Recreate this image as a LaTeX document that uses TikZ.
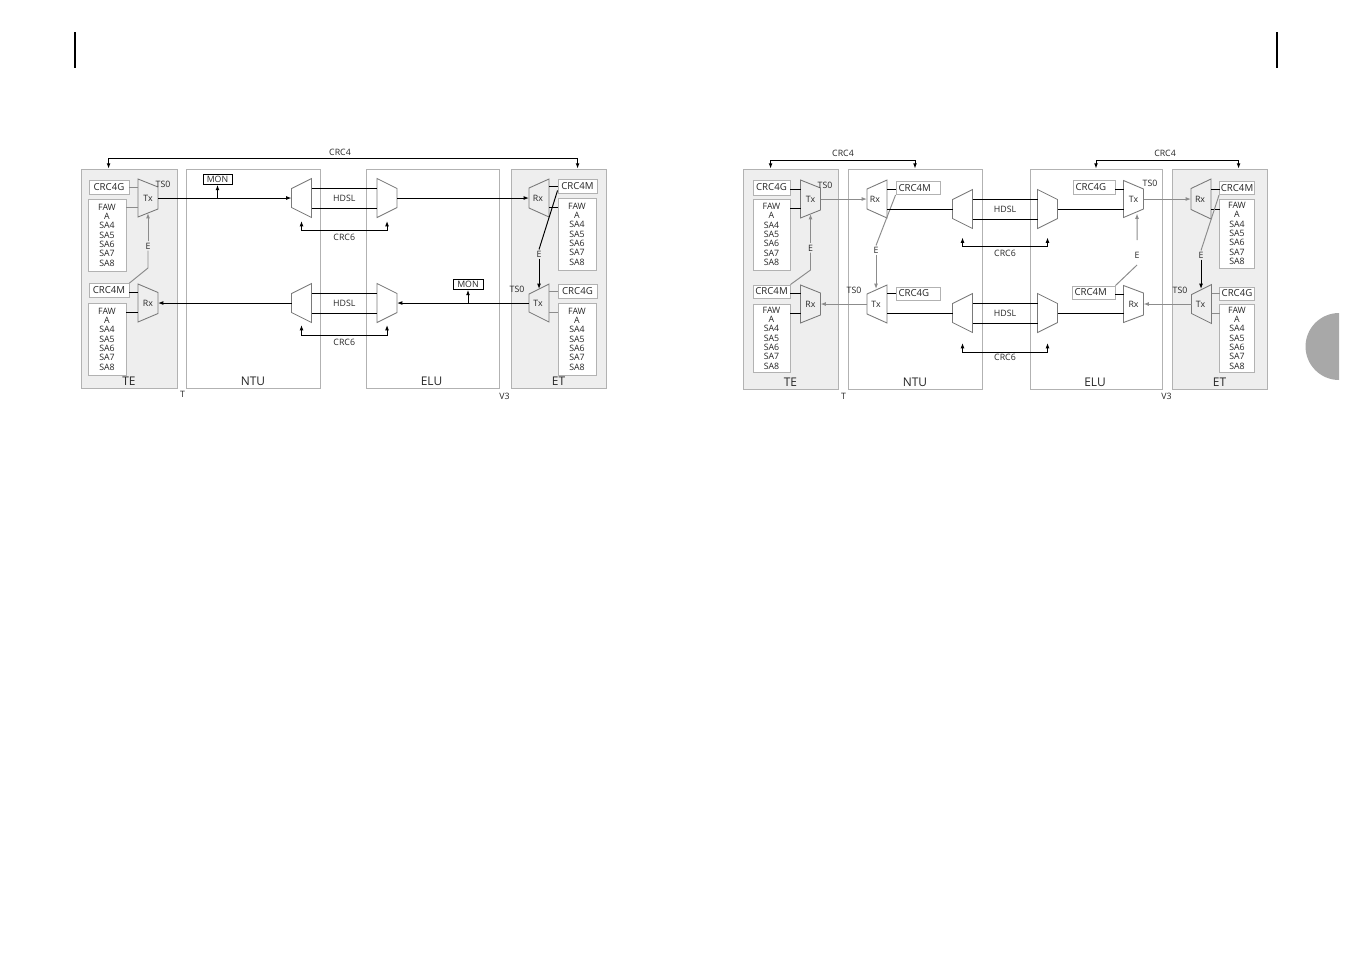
\documentclass[tikz,border=0pt]{standalone}
\usepackage{fontspec}
\setmainfont{Open Sans}
\usepackage{xcolor}
\usepackage{tikz}
\usetikzlibrary{arrows.meta, positioning, calc}

\definecolor{boxgray}{HTML}{B2B2B2}
\definecolor{panelgray}{HTML}{EEEEEE}
\definecolor{wiregray}{HTML}{8C8C8C}
\definecolor{muxgray}{HTML}{7A7A7A}
\definecolor{tabgray}{HTML}{A8A8A8}
\definecolor{inkgray}{HTML}{262626}

\newcommand{\tagfont}{\fontsize{5.5}{6}\selectfont}
\newcommand{\listfont}{\fontsize{5}{5.3}\selectfont}
\newcommand{\lblfont}{\fontsize{5}{6}\selectfont}
\newcommand{\unitfont}{\fontsize{6.8}{8}\selectfont}
\newcommand{\fawlist}{FAW\\A\\SA4\\SA5\\SA6\\SA7\\SA8}

% trapezoid, wide side on the left: name, x, y, wide half, narrow half
\newcommand{\muxwl}[5]{%
  \coordinate (#1) at (#2,#3);
  \coordinate (#1-w) at ({#2-10},#3);
  \coordinate (#1-e) at ({#2+10},#3);
  \draw[mux] ({#2-10},{#3-#4}) -- ({#2+10},{#3-#5}) -- ({#2+10},{#3+#5}) -- ({#2-10},{#3+#4}) -- cycle;}
% trapezoid, wide side on the right
\newcommand{\muxwr}[5]{%
  \coordinate (#1) at (#2,#3);
  \coordinate (#1-w) at ({#2-10},#3);
  \coordinate (#1-e) at ({#2+10},#3);
  \draw[mux] ({#2-10},{#3-#5}) -- ({#2+10},{#3-#4}) -- ({#2+10},{#3+#4}) -- ({#2-10},{#3+#5}) -- cycle;}

\begin{document}
\begin{tikzpicture}[x=0.02cm, y=-0.02cm, text=inkgray,
    panel/.style={rectangle, draw=boxgray, fill=panelgray, line width=0.5pt, inner sep=0pt, minimum height=4.38cm},
    unitbox/.style={panel, fill=white},
    tagbox/.style={rectangle, draw=boxgray, fill=white, line width=0.5pt, inner sep=0pt, minimum width=0.8cm, minimum height=0.28cm, font=\tagfont},
    tagleft/.style={tagbox, align=left, inner xsep=0.05cm, text width=0.78cm, minimum height=0.26cm},
    fawbox/.style={rectangle, draw=boxgray, fill=white, line width=0.5pt, inner sep=0pt, minimum width=0.76cm, minimum height=1.44cm, align=center, font=\listfont},
    monbox/.style={rectangle, draw=black, line width=0.45pt, inner sep=0pt, minimum width=0.58cm, minimum height=0.2cm, font=\lblfont},
    lbl/.style={inner sep=0.6pt, font=\lblfont},
    uname/.style={inner sep=0pt, font=\unitfont},
    mux/.style={draw=muxgray, line width=0.5pt},
    wire/.style={draw=black, line width=0.55pt},
    gwire/.style={draw=wiregray, line width=0.55pt},
    sig/.style={wire, -{Latex[length=3pt, width=2.2pt]}},
    gsig/.style={gwire, -{Latex[length=3pt, width=2.2pt]}},
    sigboth/.style={wire, {Latex[length=3pt, width=2.2pt]}-{Latex[length=3pt, width=2.2pt]}}]

    \useasboundingbox (0,0) rectangle (1351,954);

    \draw[line width=1.1pt] (75,32) -- (75,68);
    \draw[line width=1.1pt] (1277,32) -- (1277,68);
    \begin{scope}
        \clip (1300,300) rectangle (1339,400);
        \fill[tabgray] (1339,346.5) circle[radius=0.67cm];
    \end{scope}

    % left diagram
    \node[panel, minimum width=1.92cm] (teL) at (129,278.5) {};
    \node[unitbox, minimum width=2.68cm] (ntuL) at (253,278.5) {};
    \node[unitbox, minimum width=2.66cm] (eluL) at (432.5,278.5) {};
    \node[panel, minimum width=1.90cm] (etL) at (558.5,278.5) {};
    \node[uname] (teLname) at ($(teL.south)+(0,-7)$) {TE};
    \node[uname] (ntuLname) at ($(ntuL.south)+(0,-7)$) {NTU};
    \node[uname] (eluLname) at ($(eluL.south)+(-1,-7)$) {ELU};
    \node[uname] (etLname) at ($(etL.south)+(0,-7)$) {ET};
    \node[lbl] (tL) at ($(teL.south east)+(5,6)$) {T};
    \node[lbl] (v3L) at ($(eluL.south east)+(5,8)$) {V3};

    \node[lbl] (crc4L) at (340,152) {CRC4};
    \draw[sigboth] ($(teL.north west)+(28,0)$) -- ++(0,-10) -| ($(etL.north west)+(67,0)$);

    \node[tagbox] (crc4gL1) at (109,187.5) {CRC4G};
    \node[fawbox] (fawL1) at (107,235) {\fawlist};
    \node[tagbox] (crc4mL1) at (109,290.5) {CRC4M};
    \node[fawbox] (fawL2) at (107,339) {\fawlist};
    \muxwl{txL1}{148}{198}{19}{11}
    \muxwl{rxL1}{148}{303}{19}{10.5}
    \node[lbl] (txL1t) at (txL1) {Tx};
    \node[lbl] (rxL1t) at (rxL1) {Rx};
    \node[lbl] (tsL1) at ($(txL1)+(15,-14)$) {TS0};
    \draw[gwire] (crc4gL1.east) -- (crc4gL1.east -| txL1-w);
    \draw[gwire] ($(txL1-w)+(0,9)$) -- ++(-12,0);
    \draw[wire] ($(rxL1-w)+(0,-11)$) -- ++(-9,0);
    \draw[wire] ($(rxL1-w)+(0,9)$) -- ++(-12,0);
    \node[lbl] (eL1) at (148,246) {E};
    \draw[gsig] (eL1.north) -- ($(txL1)+(0,15)$);
    \draw[gwire] (eL1.south) -- ($(eL1)+(0,22)$) -- (crc4mL1.north east);

    \muxwr{hmuxL1}{301.5}{198}{19.5}{9.5}
    \muxwl{hmuxL2}{387}{198}{19.5}{9.5}
    \muxwr{hmuxL3}{301.5}{303}{19.5}{9.5}
    \muxwl{hmuxL4}{387}{303}{19.5}{9.5}
    \draw[wire] ($(hmuxL1-e)+(0,-10)$) -- ($(hmuxL2-w)+(0,-10)$);
    \draw[wire] ($(hmuxL1-e)+(0,10)$) -- ($(hmuxL2-w)+(0,10)$);
    \draw[wire] ($(hmuxL3-e)+(0,-10)$) -- ($(hmuxL4-w)+(0,-10)$);
    \draw[wire] ($(hmuxL3-e)+(0,10)$) -- ($(hmuxL4-w)+(0,10)$);
    \node[lbl] (hdslL1) at ($(hmuxL1)!0.5!(hmuxL2)$) {HDSL};
    \node[lbl] (hdslL2) at ($(hmuxL3)!0.5!(hmuxL4)$) {HDSL};
    \draw[sigboth] ($(hmuxL1)+(0,23)$) -- ++(0,9) -| ($(hmuxL2)+(0,23)$);
    \draw[sigboth] ($(hmuxL3)+(0,22)$) -- ++(0,10) -| ($(hmuxL4)+(0,22)$);
    \node[lbl] (crc6L1) at ($(hmuxL1)!0.5!(hmuxL2)+(0,39.5)$) {CRC6};
    \node[lbl] (crc6L2) at ($(hmuxL3)!0.5!(hmuxL4)+(0,39.5)$) {CRC6};

    \node[monbox] (monL1) at (217.5,179.5) {MON};
    \draw[sig] (txL1-e) -- (hmuxL1-w);
    \draw[sig] (monL1.south |- txL1-e) -- (monL1.south);
    \draw[sig] (hmuxL3-w) -- (rxL1-e);

    \muxwr{rxL2}{539}{198}{19}{10}
    \muxwr{txL2}{539}{303}{19}{9}
    \node[lbl] (rxL2t) at ($(rxL2)+(-1,0)$) {Rx};
    \node[lbl] (txL2t) at ($(txL2)+(-1,0)$) {Tx};
    \node[lbl] (tsL2) at ($(txL2)+(-22,-14)$) {TS0};
    \node[tagbox, minimum width=0.78cm] (crc4mL2) at (577.5,186) {CRC4M};
    \node[fawbox] (fawL3) at (577,234) {\fawlist};
    \node[tagbox, minimum width=0.78cm] (crc4gL2) at (577.5,291) {CRC4G};
    \node[fawbox] (fawL4) at (577,339) {\fawlist};
    \draw[wire] ($(rxL2-e)+(0,-12)$) -- ++(9,0);
    \draw[wire] ($(rxL2-e)+(0,9)$) -- ++(9,0);
    \draw[gwire] ($(txL2-e)+(0,-12)$) -- ++(9,0);
    \draw[gwire] ($(txL2-e)+(0,9)$) -- ++(9,0);
    \node[lbl] (eL2) at (539,254) {E};
    \draw[wire] ($(crc4mL2.south west)+(0,-3)$) -- (eL2.north);
    \draw[sig] (eL2.south) -- ($(txL2)+(0,-14)$);

    \node[monbox, minimum width=0.6cm] (monL2) at (468,284.5) {MON};
    \draw[sig] (hmuxL2-e) -- (rxL2-w);
    \draw[sig] (txL2-w) -- (hmuxL4-e);
    \draw[sig] (monL2.south |- txL2-w) -- (monL2.south);

    % right diagram
    \node[panel, minimum width=1.90cm, minimum height=4.40cm] (teR) at (790.5,279) {};
    \node[unitbox, minimum width=2.68cm, minimum height=4.40cm] (ntuR) at (915,279) {};
    \node[unitbox, minimum width=2.64cm, minimum height=4.40cm] (eluR) at (1096,279) {};
    \node[panel, minimum width=1.90cm, minimum height=4.40cm] (etR) at (1219.5,279) {};
    \node[uname] (teRname) at ($(teR.south)+(0,-7)$) {TE};
    \node[uname] (ntuRname) at ($(ntuR.south)+(0,-7)$) {NTU};
    \node[uname] (eluRname) at ($(eluR.south)+(-1,-7)$) {ELU};
    \node[uname] (etRname) at ($(etR.south)+(0,-7)$) {ET};
    \node[lbl] (tR) at ($(teR.south east)+(5,7)$) {T};
    \node[lbl] (v3R) at ($(eluR.south east)+(4,7)$) {V3};

    \node[lbl] (crc4R1) at (843,153) {CRC4};
    \draw[sigboth] ($(teR.north west)+(28,0)$) -- ++(0,-8.5) -| (ntuR.north);
    \node[lbl] (crc4R2) at (1165,153) {CRC4};
    \draw[sigboth] (eluR.north) -- ++(0,-8.5) -| ($(etR.north west)+(67,0)$);

    \node[tagbox, minimum width=0.74cm, minimum height=0.3cm] (crc4gR1) at (771.5,187.5) {CRC4G};
    \node[fawbox, minimum width=0.74cm, minimum height=1.42cm] (fawR1) at (771.5,234.5) {\fawlist};
    \node[tagbox, minimum width=0.74cm, minimum height=0.26cm] (crc4mR1) at (771.5,291.5) {CRC4M};
    \node[fawbox, minimum width=0.74cm, minimum height=1.36cm] (fawR2) at (771.5,338) {\fawlist};
    \muxwl{txR1}{810.5}{199}{19}{11}
    \muxwl{rxR1}{810.5}{304}{19}{11}
    \node[lbl] (txR1t) at (txR1) {Tx};
    \node[lbl] (rxR1t) at (rxR1) {Rx};
    \node[lbl] (tsR1) at ($(txR1)+(14.5,-14)$) {TS0};
    \draw[wire] ($(txR1-w)+(0,-10)$) -- ++(-10.5,0);
    \draw[wire] ($(txR1-w)+(0,9)$) -- ++(-10.5,0);
    \draw[wire] ($(rxR1-w)+(0,-11)$) -- ++(-10.5,0);
    \draw[wire] ($(rxR1-w)+(0,9)$) -- ++(-10.5,0);
    \node[lbl] (eR1) at (810.5,248) {E};
    \draw[gsig] (eR1.north) -- ($(txR1)+(0,15)$);
    \draw[gwire] (eR1.south) -- ($(eR1)+(0,22)$) -- (crc4mR1.north east);

    \muxwr{rxR2}{877}{199}{19}{10}
    \muxwr{txR2}{877}{304}{19}{10}
    \node[lbl] (rxR2t) at ($(rxR2)+(-2,0)$) {Rx};
    \node[lbl] (txR2t) at ($(txR2)+(-1,0)$) {Tx};
    \node[lbl] (tsR2) at ($(txR2)+(-23,-14)$) {TS0};
    \node[tagleft] (crc4mR2) at (918,188) {CRC4M};
    \node[tagleft] (crc4gR2) at (918,293.5) {CRC4G};
    \draw[gsig] (txR1-e) -- (rxR2-w);
    \draw[gsig] (txR2-w) -- (rxR1-e);
    \draw[wire] ($(rxR2-e)+(0,-10)$) -- ++(9,0);
    \draw[wire] ($(txR2-e)+(0,-11)$) -- ++(9,0);
    \node[lbl] (eR2) at (876,250) {E};
    \draw[gwire] (crc4mR2.south west) -- (eR2.north);
    \draw[gsig] (eR2.south) -- ($(txR2)+(-1,-15)$);

    \muxwr{hmuxR1}{962.5}{209}{19.5}{9.5}
    \muxwl{hmuxR2}{1047.5}{209}{19.5}{9.5}
    \muxwr{hmuxR3}{962.5}{313}{19.5}{9.5}
    \muxwl{hmuxR4}{1047.5}{313}{19.5}{9.5}
    \draw[wire] ($(rxR2-e)+(0,10)$) -- (hmuxR1-w);
    \draw[wire] ($(txR2-e)+(0,9)$) -- (hmuxR3-w);
    \draw[wire] ($(hmuxR1-e)+(0,-10)$) -- ($(hmuxR2-w)+(0,-10)$);
    \draw[wire] ($(hmuxR1-e)+(0,10)$) -- ($(hmuxR2-w)+(0,10)$);
    \draw[wire] ($(hmuxR3-e)+(0,-10)$) -- ($(hmuxR4-w)+(0,-10)$);
    \draw[wire] ($(hmuxR3-e)+(0,10)$) -- ($(hmuxR4-w)+(0,10)$);
    \node[lbl] (hdslR1) at ($(hmuxR1)!0.5!(hmuxR2)$) {HDSL};
    \node[lbl] (hdslR2) at ($(hmuxR3)!0.5!(hmuxR4)$) {HDSL};
    \draw[sigboth] ($(hmuxR1)+(0,28.5)$) -- ++(0,9) -| ($(hmuxR2)+(0,28.5)$);
    \draw[sigboth] ($(hmuxR3)+(0,30)$) -- ++(0,9) -| ($(hmuxR4)+(0,30)$);
    \node[lbl] (crc6R1) at ($(hmuxR1)!0.5!(hmuxR2)+(0,44.5)$) {CRC6};
    \node[lbl] (crc6R2) at ($(hmuxR3)!0.5!(hmuxR4)+(0,44)$) {CRC6};

    \muxwl{txR3}{1133.5}{199}{18.5}{10}
    \muxwl{rxR3}{1133.5}{304}{18.5}{11}
    \node[lbl] (txR3t) at (txR3) {Tx};
    \node[lbl] (rxR3t) at (rxR3) {Rx};
    \node[lbl] (tsR3) at ($(txR3)+(16.5,-16)$) {TS0};
    \node[tagleft, text width=0.74cm, minimum height=0.28cm] (crc4gR3) at (1094,187) {CRC4G};
    \node[tagleft, text width=0.76cm] (crc4mR3) at (1093.5,292.5) {CRC4M};
    \draw[wire] (hmuxR2-e) -- (hmuxR2-e -| txR3-w);
    \draw[wire] (hmuxR4-e) -- (hmuxR4-e -| rxR3-w);
    \draw[wire] ($(txR3-w)+(0,-10)$) -- ++(-8.5,0);
    \draw[wire] ($(rxR3-w)+(0,-10)$) -- ++(-8.5,0);
    \node[lbl] (eR3) at (1137,255) {E};
    \draw[gsig] ($(eR3)+(0,-15)$) -- ($(txR3)+(3.5,14.5)$);
    \draw[gwire] ($(eR3)+(0,10)$) -- (crc4mR3.north east);

    \muxwr{rxR4}{1201}{199}{20}{10.5}
    \muxwr{txR4}{1201.5}{304}{19.5}{9.5}
    \node[lbl] (rxR4t) at ($(rxR4)+(-1,0)$) {Rx};
    \node[lbl] (txR4t) at ($(txR4)+(-1,0)$) {Tx};
    \node[lbl] (tsR4) at ($(txR4)+(-21.5,-14)$) {TS0};
    \node[tagbox, minimum width=0.70cm, minimum height=0.26cm] (crc4mR4) at (1237,188) {CRC4M};
    \node[fawbox, minimum width=0.70cm, minimum height=1.38cm] (fawR3) at (1237,233.5) {\fawlist};
    \node[tagbox, minimum width=0.70cm, minimum height=0.26cm] (crc4gR4) at (1237,293.5) {CRC4G};
    \node[fawbox, minimum width=0.70cm, minimum height=1.36cm] (fawR4) at (1237,338) {\fawlist};
    \draw[gsig] (txR3-e) -- (rxR4-w);
    \draw[gsig] (txR4-w) -- (rxR3-e);
    \draw[wire] ($(rxR4-e)+(0,-10)$) -- ++(9,0);
    \draw[wire] ($(rxR4-e)+(0,10)$) -- ++(9,0);
    \draw[gwire] ($(txR4-e)+(0,-11)$) -- ++(8.5,0);
    \draw[gwire] ($(txR4-e)+(0,9)$) -- ++(8.5,0);
    \node[lbl] (eR4) at (1201,255) {E};
    \draw[gwire] (crc4mR4.south west) -- (eR4.north);
    \draw[sig] (eR4.south) -- ($(txR4)+(-0.5,-15)$);
\end{tikzpicture}
\end{document}
